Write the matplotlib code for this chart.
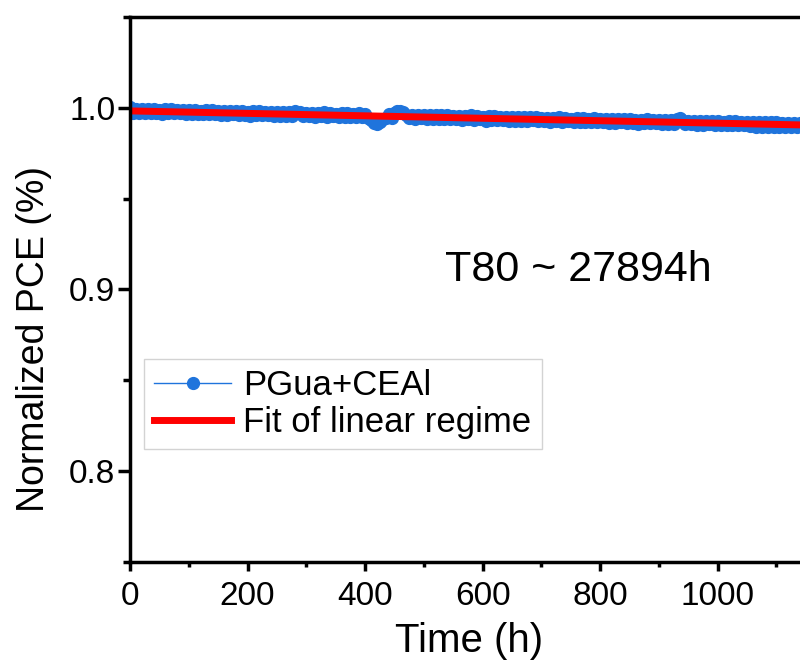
import matplotlib.pyplot as plt
from matplotlib.ticker import MultipleLocator

plt.rcParams['font.family'] = ['Liberation Sans', 'DejaVu Sans']

# Stability data (normalized PCE vs time), every 5 h
time_h = list(range(0, 1145, 5))
pce_norm = [
    1.0006, 0.9973, 0.9992, 0.9971, 0.9993, 0.9974, 0.9995, 0.9972, 0.9991, 0.9973,
    0.9989, 0.9968, 0.9991, 0.9971, 0.9992, 0.9969, 0.9988, 0.9970, 0.9990, 0.9968,
    0.9988, 0.9967, 0.9986, 0.9965, 0.9985, 0.9964, 0.9987, 0.9968, 0.9988, 0.9966,
    0.9984, 0.9963, 0.9982, 0.9961, 0.9983, 0.9964, 0.9985, 0.9962, 0.9981, 0.9963,
    0.9978, 0.9957, 0.9980, 0.9960, 0.9981, 0.9958, 0.9977, 0.9959, 0.9979, 0.9957,
    0.9978, 0.9957, 0.9976, 0.9955, 0.9975, 0.9954, 0.9980, 0.9970, 0.9978, 0.9956,
    0.9974, 0.9953, 0.9972, 0.9951, 0.9973, 0.9954, 0.9975, 0.9952, 0.9971, 0.9953,
    0.9968, 0.9947, 0.9970, 0.9950, 0.9971, 0.9948, 0.9967, 0.9949, 0.9969, 0.9947,
    0.9967, 0.9945, 0.9935, 0.9915, 0.9910, 0.9922, 0.9940, 0.9944, 0.9966, 0.9945,
    0.9970, 0.9980, 0.9985, 0.9978, 0.9962, 0.9943, 0.9963, 0.9941, 0.9960, 0.9942,
    0.9961, 0.9940, 0.9959, 0.9938, 0.9958, 0.9937, 0.9960, 0.9941, 0.9961, 0.9939,
    0.9957, 0.9936, 0.9955, 0.9934, 0.9956, 0.9937, 0.9958, 0.9935, 0.9954, 0.9936,
    0.9951, 0.9930, 0.9953, 0.9933, 0.9954, 0.9931, 0.9950, 0.9932, 0.9952, 0.9930,
    0.9951, 0.9930, 0.9949, 0.9928, 0.9948, 0.9927, 0.9950, 0.9931, 0.9951, 0.9929,
    0.9946, 0.9925, 0.9944, 0.9923, 0.9945, 0.9926, 0.9947, 0.9924, 0.9943, 0.9925,
    0.9941, 0.9920, 0.9943, 0.9923, 0.9944, 0.9921, 0.9940, 0.9922, 0.9942, 0.9920,
    0.9941, 0.9920, 0.9939, 0.9918, 0.9938, 0.9917, 0.9940, 0.9921, 0.9941, 0.9919,
    0.9936, 0.9915, 0.9934, 0.9913, 0.9935, 0.9916, 0.9937, 0.9914, 0.9933, 0.9915,
    0.9931, 0.9910, 0.9933, 0.9913, 0.9934, 0.9911, 0.9940, 0.9942, 0.9935, 0.9912,
    0.9930, 0.9909, 0.9928, 0.9907, 0.9927, 0.9906, 0.9929, 0.9910, 0.9930, 0.9908,
    0.9926, 0.9905, 0.9924, 0.9903, 0.9925, 0.9906, 0.9927, 0.9904, 0.9923, 0.9905,
    0.9921, 0.9900, 0.9923, 0.9896, 0.9924, 0.9895, 0.9920, 0.9896, 0.9922, 0.9894,
    0.9920, 0.9893, 0.9918, 0.9894, 0.9917, 0.9893, 0.9919, 0.9895, 0.9916,
]

# Linear fit endpoints
fit_time = [0, 1140]
fit_pce = [0.9983, 0.9906]

fig = plt.figure(figsize=(8, 6.69), dpi=100)
ax = fig.add_axes([0.1625, 0.160, 0.8375, 0.8146])

blue = '#1f74dc'
ax.plot(time_h, pce_norm, color=blue, lw=1, marker='o', ms=8.5,
        mec=blue, label='PGua+CEAl')
ax.plot(fit_time, fit_pce, color='#ff0000', lw=5, label='Fit of linear regime')

ax.set_xlim(0, 1140)
ax.set_ylim(0.75, 1.05)
ax.xaxis.set_major_locator(MultipleLocator(200))
ax.xaxis.set_minor_locator(MultipleLocator(100))
ax.yaxis.set_major_locator(MultipleLocator(0.1))
ax.yaxis.set_minor_locator(MultipleLocator(0.05))
ax.yaxis.set_major_formatter(plt.FormatStrFormatter('%.1f'))

ax.spines['right'].set_visible(False)
for s in ['left', 'bottom', 'top']:
    ax.spines[s].set_linewidth(2.5)
ax.tick_params(which='both', direction='out', width=2.5, labelsize=24)
ax.tick_params(axis='x', which='major', length=6.5, pad=7)
ax.tick_params(axis='x', which='minor', length=3.5)
ax.tick_params(axis='y', which='major', length=9, pad=1.5)
ax.tick_params(axis='y', which='minor', length=5)

ax.set_xlabel('Time (h)', fontsize=29)
ax.xaxis.set_label_coords(0.506, -0.11)
ax.set_ylabel('Normalized PCE (%)', fontsize=27)
ax.yaxis.set_label_coords(-0.116, 0.41)

ax.text(536, 0.9105, 'T80 ~ 27894h', fontsize=31, va='center', ha='left')

leg = ax.legend(loc='upper left', bbox_to_anchor=(0.021, 0.3725), borderaxespad=0,
                fontsize=25, frameon=True, fancybox=False, edgecolor='#c8c8c8',
                handlelength=2.2, handletextpad=0.35, labelspacing=0.1,
                borderpad=0.3)
leg.get_frame().set_linewidth(1)

fig.savefig('out.png', dpi=100)
